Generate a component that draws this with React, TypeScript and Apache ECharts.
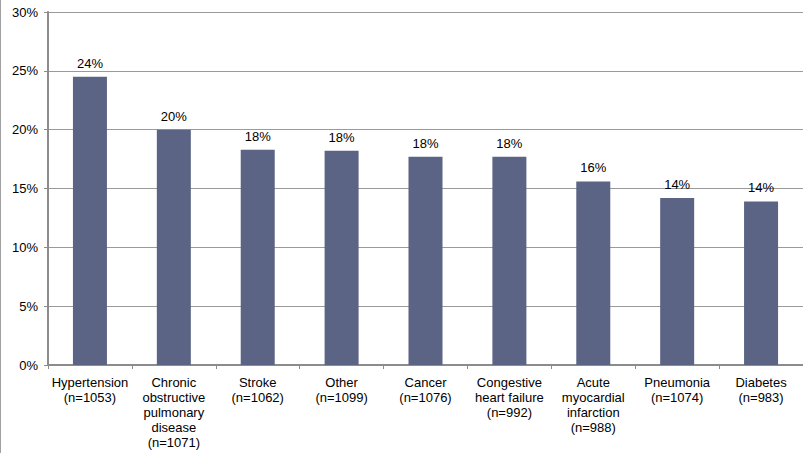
import React, { useEffect, useRef } from "react";
import * as echarts from "echarts";

const categories = [
  "Hypertension\n(n=1053)",
  "Chronic\nobstructive\npulmonary\ndisease\n(n=1071)",
  "Stroke\n(n=1062)",
  "Other\n(n=1099)",
  "Cancer\n(n=1076)",
  "Congestive\nheart failure\n(n=992)",
  "Acute\nmyocardial\ninfarction\n(n=988)",
  "Pneumonia\n(n=1074)",
  "Diabetes\n(n=983)",
];
const values = [24.5, 20.0, 18.3, 18.2, 17.7, 17.7, 15.6, 14.2, 13.9];
const valueLabels = ["24%", "20%", "18%", "18%", "18%", "18%", "16%", "14%", "14%"];

export default function App() {
  const ref = useRef<HTMLDivElement>(null);
  useEffect(() => {
    document.body.style.margin = "0";
    const chart = echarts.init(ref.current!, null, { renderer: "svg" });
    const font = "Liberation Sans, Arial, sans-serif";
    chart.setOption({
      animation: false,
      textStyle: { fontFamily: font },
      graphic: [
        {
          type: "line",
          shape: { x1: 0.5, y1: 0, x2: 0.5, y2: 453 },
          style: { stroke: "#a0a0a0", lineWidth: 1 },
        },
      ],
      grid: { left: 48, right: 0, top: 12, bottom: 88 },
      xAxis: {
        type: "category",
        data: categories,
        axisLine: { lineStyle: { color: "#8c8c8c", width: 2 } },
        axisTick: { show: true, length: 4, lineStyle: { color: "#8c8c8c" } },
        axisLabel: {
          color: "#000",
          fontSize: 13,
          lineHeight: 15,
          margin: 10,
          interval: 0,
          fontFamily: font,
        },
      },
      yAxis: {
        type: "value",
        min: 0,
        max: 30,
        interval: 5,
        axisLine: { show: true, lineStyle: { color: "#8c8c8c", width: 2 } },
        axisTick: { show: true, length: 4, lineStyle: { color: "#8c8c8c" } },
        splitLine: { lineStyle: { color: "#9a9a9a", width: 1 } },
        axisLabel: {
          color: "#000",
          fontSize: 13,
          margin: 10,
          formatter: "{value}%",
          fontFamily: font,
        },
      },
      series: [
        {
          type: "bar",
          data: values,
          barWidth: 34,
          itemStyle: { color: "#5b6485" },
          label: {
            show: true,
            position: "top",
            distance: 7,
            color: "#000",
            fontSize: 13,
            fontFamily: font,
            formatter: (p: any) => valueLabels[p.dataIndex],
          },
        },
      ],
    });
    return () => chart.dispose();
  }, []);
  return <div ref={ref} style={{ width: 803, height: 453 }} />;
}
